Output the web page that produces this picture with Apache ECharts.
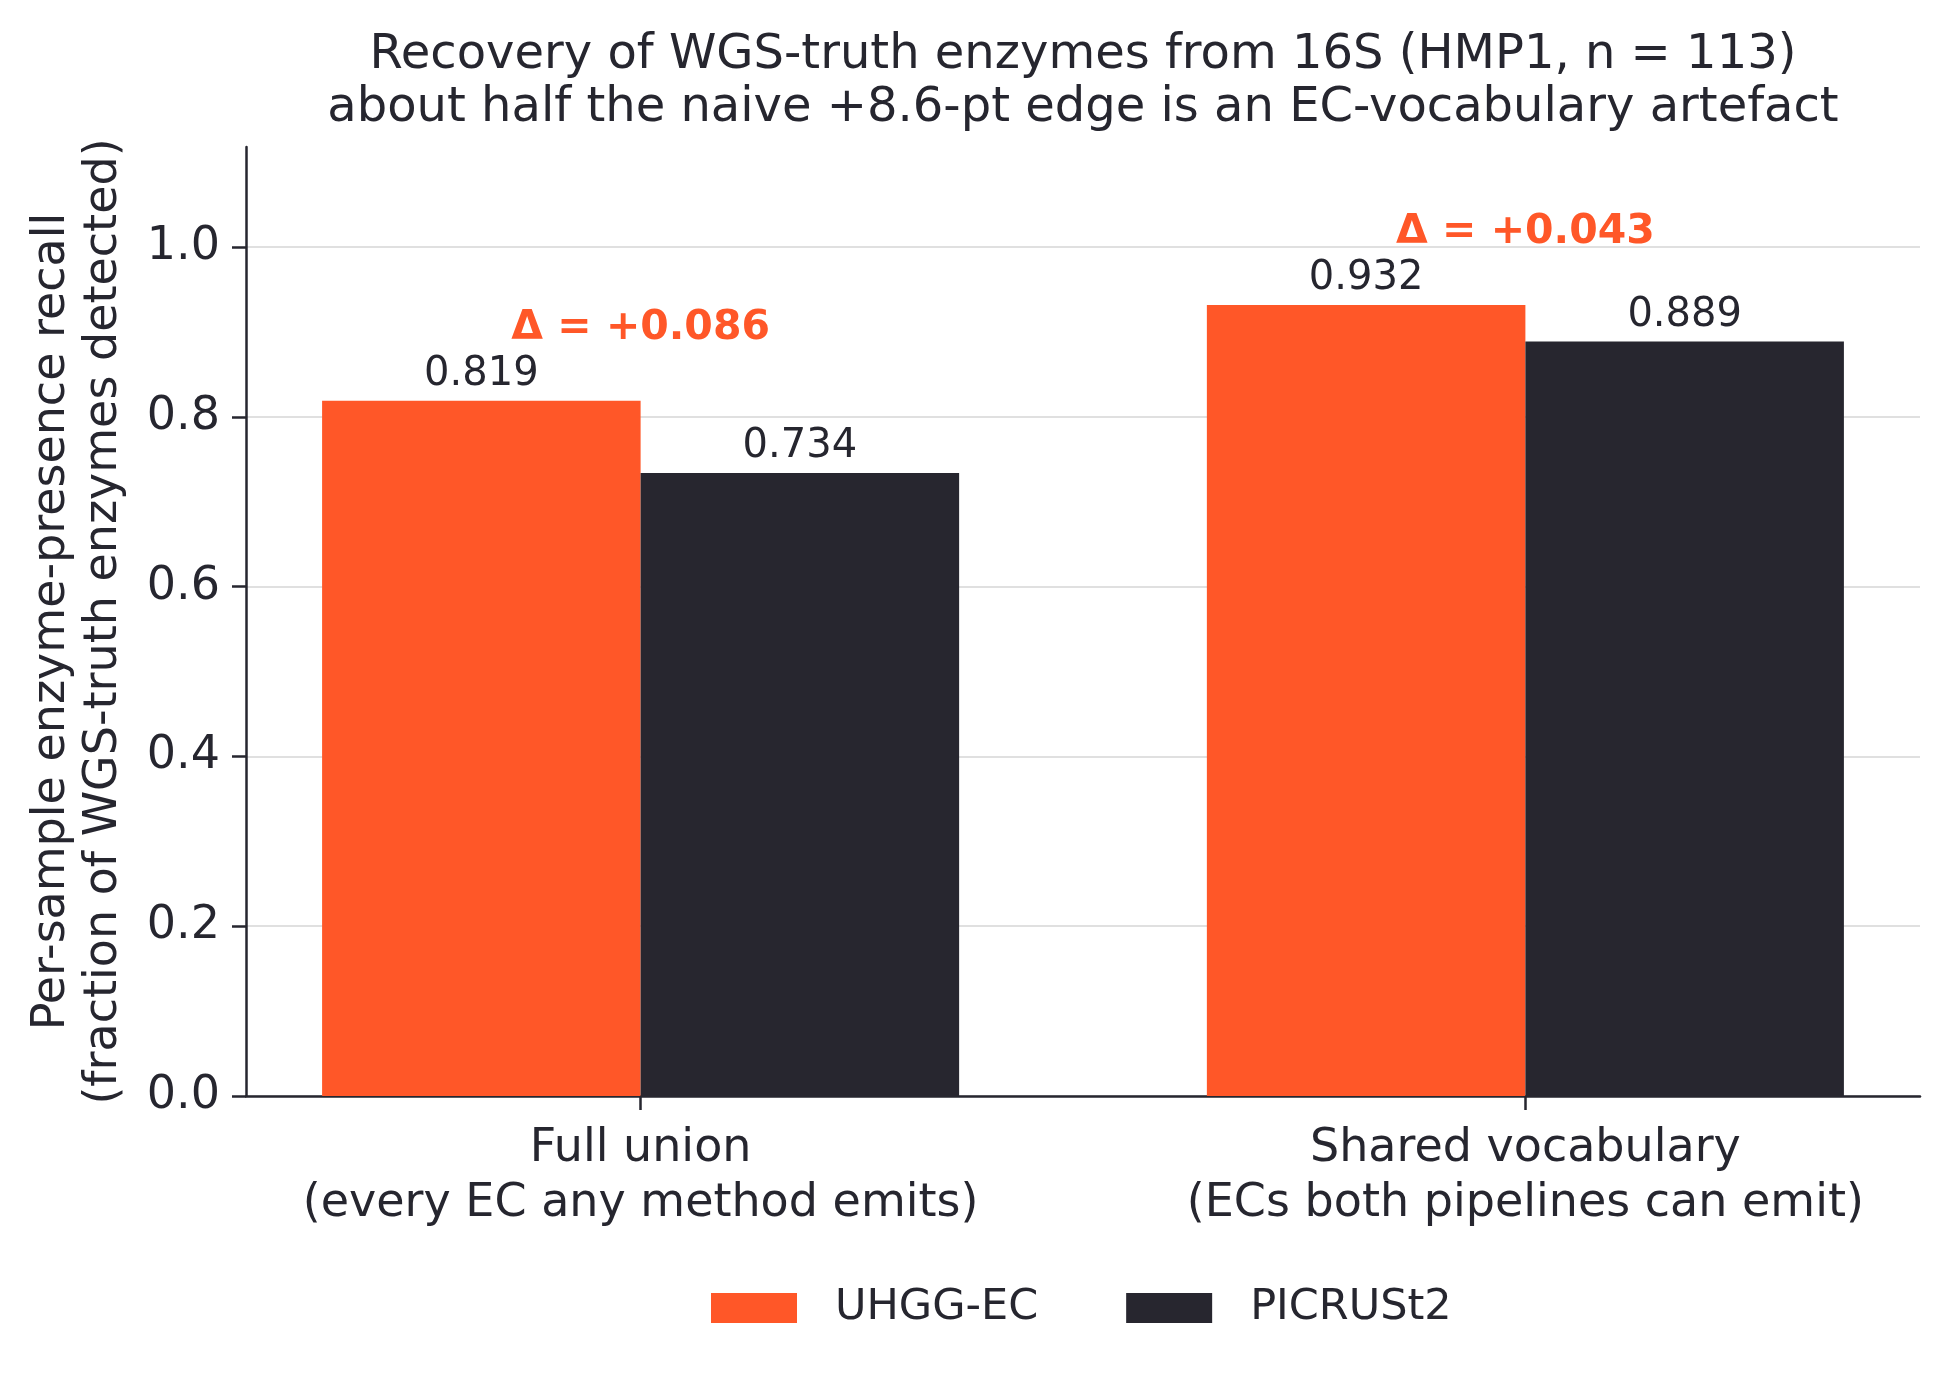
<!DOCTYPE html>
<html>
<head>
<meta charset="utf-8">
<script src="https://cdn.jsdelivr.net/npm/echarts@6/dist/echarts.min.js"></script>
<style>
html,body{margin:0;padding:0;background:#fff}
#chart{width:1949px;height:1378px}
</style>
</head>
<body>
<div id="chart"></div>
<script>
// data
var groupNames = ['Full union\n(every EC any method emits)', 'Shared vocabulary\n(ECs both pipelines can emit)'];
var groupPos = [0, 1];
var uhggRecall = [0.819, 0.932];
var picrustRecall = [0.734, 0.889];
var deltaVals = [0.086, 0.043];
var yTicks = [0, 0.2, 0.4, 0.6, 0.8, 1.0];

var ORANGE = '#FF5728';
var DARK = '#27262F';
var TEXT = '#26262F';
var FONT = '"DejaVu Sans", sans-serif';
var LABEL_PAD = 0.085; // delta label centre above the taller bar

function pairs(xs, ys){
	var out = [];
	for(var i = 0;i < xs.length;i++){
		out.push([xs[i], ys[i]]);
	}
	return out;
}

function deltaPoints(){
	var out = [];
	for(var i = 0;i < groupPos.length;i++){
		out.push({
			value:[groupPos[i], Math.max(uhggRecall[i], picrustRecall[i]) + LABEL_PAD],
			delta:deltaVals[i]
		});
	}
	return out;
}

var chart = echarts.init(document.getElementById('chart'));

var option = {
	animation:false,
	backgroundColor:'#ffffff',
	textStyle:{fontFamily:FONT},
	title:{
		text:'Recovery of WGS-truth enzymes from 16S (HMP1, n = 113)\nabout half the naive +8.6-pt edge is an EC-vocabulary artefact',
		left:1083,
		top:29,
		padding:0,
		textAlign:'center',
		textStyle:{fontFamily:FONT, fontSize:48, fontWeight:'normal', color:TEXT, lineHeight:53}
	},
	legend:{
		data:['UHGG-EC','PICRUSt2'],
		left:706,
		top:1278,
		itemWidth:86,
		itemHeight:30,
		itemGap:88,
		icon:'rect',
		textStyle:{fontFamily:FONT, fontSize:43, color:TEXT, padding:[0,0,0,33], lineHeight:50}
	},
	grid:{
		left:246,
		right:29,
		top:147,
		bottom:282,
		containLabel:false,
		outerBoundsMode:'none'
	},
	xAxis:{
		type:'value',
		min:-0.446,
		max:1.446,
		axisLine:{show:true, lineStyle:{color:TEXT, width:2.5}},
		axisTick:{show:true, customValues:groupPos, length:14, lineStyle:{color:TEXT, width:2.5}},
		axisLabel:{
			customValues:groupPos,
			margin:26,
			fontFamily:FONT,
			fontSize:46,
			lineHeight:55,
			color:TEXT,
			formatter:function(v){
				var i = groupPos.indexOf(v);
				return i >= 0 ? groupNames[i] : '';
			}
		},
		splitLine:{show:false}
	},
	yAxis:{
		type:'value',
		min:0,
		max:1.118,
		interval:0.2,
		name:'Per-sample enzyme-presence recall\n(fraction of WGS-truth enzymes detected)',
		nameLocation:'middle',
		nameRotate:90,
		nameGap:116,
		nameTextStyle:{fontFamily:FONT, fontSize:46, color:TEXT, lineHeight:52},
		axisLine:{show:true, onZero:false, lineStyle:{color:TEXT, width:2.5}},
		axisTick:{show:true, customValues:yTicks, length:14, lineStyle:{color:TEXT, width:2.5}},
		axisLabel:{
			customValues:yTicks,
			margin:26,
			fontFamily:FONT,
			fontSize:46,
			color:TEXT,
			formatter:function(v){ return v.toFixed(1); }
		},
		splitLine:{show:true, showMaxLine:true, lineStyle:{color:'#E0E0E0', width:2}}
	},
	series:[
		{
			name:'UHGG-EC',
			type:'bar',
			data:pairs(groupPos, uhggRecall),
			barWidth:'36%',
			barGap:'0%',
			itemStyle:{color:ORANGE},
			label:{
				show:true, position:'top', distance:6,
				fontFamily:FONT, fontSize:40, color:TEXT,
				formatter:function(p){ return p.value[1].toFixed(3); }
			}
		},
		{
			name:'PICRUSt2',
			type:'bar',
			data:pairs(groupPos, picrustRecall),
			barWidth:'36%',
			barGap:'0%',
			itemStyle:{color:DARK},
			label:{
				show:true, position:'top', distance:6,
				fontFamily:FONT, fontSize:40, color:TEXT,
				formatter:function(p){ return p.value[1].toFixed(3); }
			}
		},
		{
			name:'delta',
			type:'scatter',
			data:deltaPoints(),
			symbolSize:0,
			silent:true,
			z:10,
			itemStyle:{color:ORANGE, opacity:1},
			label:{
				show:true, position:'inside',
				fontFamily:FONT, fontSize:41, fontWeight:'bold', color:ORANGE,
				textBorderWidth:0, textBorderColor:'transparent', opacity:1,
				formatter:function(p){ return '\u0394 = +' + p.data.delta.toFixed(3); }
			}
		}
	]
};

chart.setOption(option);
</script>
</body>
</html>
